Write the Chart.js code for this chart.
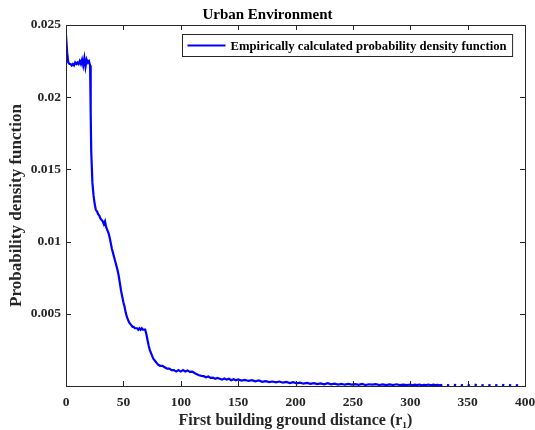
<!DOCTYPE html>
<html>
<head>
<meta charset="utf-8">
<script src="https://cdn.jsdelivr.net/npm/chart.js@4"></script>
<style>
  html, body { margin: 0; padding: 0; background: #fff; }
</style>
</head>
<body>
<canvas id="chart" width="535" height="430"></canvas>
<script>
const distance = [
  0, 1, 2, 3, 4, 5, 6, 7, 8, 9, 10, 11, 12, 13, 14, 15, 16, 17, 18, 19, 20,
  21, 21.5, 22, 23, 24, 25, 26, 27, 28, 29, 30, 31, 32, 33, 34, 35, 36, 37, 38, 39,
  40, 41, 42, 43, 44, 45, 46, 47, 48, 49, 50, 51, 52, 53, 54, 55, 56, 57, 58, 59,
  60, 61, 62, 63, 64, 65, 66, 67, 68, 69, 70, 71, 72, 73, 74, 75, 76, 77, 78, 79,
  80, 82, 84, 86, 88, 90, 92, 94, 96, 98, 100, 102, 104, 106, 108, 110, 112, 114, 116, 118,
  120, 122, 124, 126, 128, 130, 132, 134, 136, 138, 140, 142, 144, 146, 148, 150,
  153, 156, 159, 162, 165, 168, 171, 174, 177, 180, 183, 186, 189, 192, 195, 198,
  201, 204, 207, 210, 213, 216, 219, 222, 225, 228, 231, 234, 237, 240, 243, 246, 249,
  252, 255, 258, 261, 264, 267, 270, 273, 276, 279, 282, 285, 288, 291, 294, 297, 300,
  302, 304, 306, 308, 310, 312, 314, 316, 318, 320, 322, 324, 326, 328, 330,
  332, 334, 336, 338, 340, 342, 344, 346, 348, 350, 352, 354, 356, 358, 360,
  362, 364, 366, 368, 370, 372, 374, 376, 378, 380, 382, 384, 386, 388, 390, 392, 394, 396
];
const pdf = [
  0.0243, 0.0231, 0.0224, 0.0223, 0.0223, 0.0222, 0.0223, 0.0222, 0.0224, 0.0223, 0.0224, 0.0223, 0.0225, 0.0223, 0.0226, 0.0222, 0.0227, 0.0221, 0.0226, 0.0224, 0.0225,
  0.0222, 0.0190, 0.0162, 0.0141, 0.0132, 0.0126, 0.0122, 0.0121, 0.0119, 0.0118, 0.0116, 0.0115, 0.0114, 0.0112, 0.0114, 0.0110, 0.0108, 0.0106, 0.0103, 0.0099,
  0.0095, 0.0092, 0.0089, 0.0086, 0.0083, 0.0080, 0.0076, 0.0071, 0.0066, 0.0062, 0.0058, 0.0055, 0.0051, 0.0048, 0.0046, 0.0044, 0.0043, 0.0042, 0.0041, 0.0041,
  0.0040, 0.0040, 0.0040, 0.0039, 0.0040, 0.0039, 0.0040, 0.0039, 0.0039, 0.0039, 0.0036, 0.0032, 0.0028, 0.0025, 0.0023, 0.0021, 0.0019, 0.0018, 0.0017, 0.0016,
  0.0015, 0.0014, 0.0014, 0.0013, 0.0012, 0.0012, 0.0011, 0.0011, 0.0010, 0.0011, 0.0010, 0.0011, 0.00100, 0.00108, 0.00098, 0.00100, 0.00090, 0.00082, 0.00074, 0.00070,
  0.00068, 0.00060, 0.00066, 0.00056, 0.00058, 0.00050, 0.00056, 0.00050, 0.00044, 0.00052, 0.00044, 0.00050, 0.00040, 0.00047, 0.00040, 0.00045,
  0.00038, 0.00042, 0.00035, 0.00040, 0.00032, 0.00038, 0.00029, 0.00034, 0.00027, 0.00031, 0.00025, 0.00031, 0.00023, 0.00028, 0.00020, 0.00026,
  0.00018, 0.00023, 0.00016, 0.00021, 0.00015, 0.00020, 0.00013, 0.00018, 0.00012, 0.00019, 0.00011, 0.00016, 0.00010, 0.00015, 0.00009, 0.00014, 0.00010,
  0.00013, 0.00008, 0.00014, 0.00007, 0.00012, 0.00009, 0.00013, 0.00007, 0.00011, 0.00006, 0.00011, 0.00007, 0.00012, 0.00006, 0.00010, 0.00007,
  0.00010, 0.00005, 0.00009, 0.00006, 0.00010, 0.00005, 0.00008, 0.00006, 0.00010, 0.00005, 0.00009, 0.00006, 0.00008, 0.00005, 0.00009,
  null, 0.00007, 0.00005, null, 0.00008, 0.00006, null, 0.00006, 0.00004, null, 0.00007, 0.00005, null, 0.00009, 0.00006,
  null, 0.00006, 0.00004, null, 0.00007, 0.00005, null, 0.00006, 0.00004, null, 0.00008, 0.00005, null, 0.00006, 0.00004, null, 0.00006, 0.00005
];
const yTicks = [0.005, 0.01, 0.015, 0.02, 0.025];
const seriesLabel = 'Empirically calculated probability density function';

const serif = '"Liberation Serif", "Times New Roman", serif';
const ink = '#262626';

// MATLAB-style box with inward ticks and a framed legend inside the axes
const boxPlugin = {
  id: 'box',
  afterDraw(chart) {
    const c = chart.ctx;
    const { left, right, top, bottom } = chart.chartArea;
    const xs = chart.scales.x, ys = chart.scales.y;
    c.save();
    c.strokeStyle = ink;
    c.lineWidth = 1;
    c.beginPath();
    xs.ticks.forEach(t => {
      const px = Math.round(xs.getPixelForValue(t.value)) + 0.5;
      c.moveTo(px, bottom); c.lineTo(px, bottom - 5);
      c.moveTo(px, top); c.lineTo(px, top + 5);
    });
    ys.ticks.forEach(t => {
      const py = Math.round(ys.getPixelForValue(t.value)) + 0.5;
      c.moveTo(left, py); c.lineTo(left + 5, py);
      c.moveTo(right, py); c.lineTo(right - 5, py);
    });
    c.stroke();
    c.strokeRect(Math.round(left) + 0.5, Math.round(top) + 0.5, Math.round(right - left), Math.round(bottom - top));

    // legend
    c.font = 'bold 12.7px ' + serif;
    const tw = c.measureText(seriesLabel).width;
    const bw = tw + 54, bh = 22;
    const bx = Math.round(right - 13 - bw) + 0.5, by = Math.round(top + 9) + 0.5;
    c.fillStyle = '#fff';
    c.fillRect(bx, by, bw, bh);
    c.strokeRect(bx, by, bw, bh);
    c.strokeStyle = '#0000ff';
    c.lineWidth = 2;
    c.beginPath();
    c.moveTo(bx + 5, by + bh / 2); c.lineTo(bx + 43, by + bh / 2);
    c.stroke();
    c.fillStyle = '#000';
    c.textBaseline = 'middle';
    c.fillText(seriesLabel, bx + 48, by + bh / 2 + 1);
    c.restore();
  }
};

const ctx = document.getElementById('chart').getContext('2d');
new Chart(ctx, {
  type: 'line',
  data: {
    datasets: [{
      label: seriesLabel,
      data: distance.map((d, i) => ({ x: d, y: pdf[i] })),
      borderColor: '#0000ff',
      borderWidth: 2.2,
      pointRadius: 0,
      tension: 0,
      spanGaps: false
    }]
  },
  options: {
    responsive: false,
    animation: false,
    layout: { padding: { left: 0, right: 0, top: 0, bottom: 0 } },
    plugins: {
      legend: { display: false },
      tooltip: { enabled: false },
      title: {
        display: true,
        text: 'Urban Environment',
        color: '#000',
        font: { family: serif, size: 15, weight: 'bold' },
        padding: { top: 6, bottom: 1 }
      }
    },
    scales: {
      x: {
        type: 'linear',
        min: 0,
        max: 400,
        border: { display: false },
        grid: { display: false, drawTicks: false },
        ticks: {
          stepSize: 50,
          color: ink,
          padding: 8,
          maxRotation: 0,
          font: { family: serif, size: 13.5, weight: 'bold' }
        },
        title: {
          display: true,
          text: 'First building ground distance (r\u2081)',
          color: ink,
          font: { family: serif, size: 16, weight: 'bold' },
          padding: { top: 0, bottom: 0 }
        },
        afterFit: s => { s.height = 44; s.paddingLeft = 0; s.paddingRight = 10; }
      },
      y: {
        min: 0,
        max: 0.025,
        border: { display: false },
        grid: { display: false, drawTicks: false },
        afterBuildTicks: s => { s.ticks = yTicks.map(v => ({ value: v })); },
        ticks: {
          color: ink,
          padding: 5,
          font: { family: serif, size: 13.5, weight: 'bold' },
          callback: v => String(+v.toFixed(3))
        },
        title: {
          display: true,
          text: 'Probability density function',
          color: ink,
          font: { family: serif, size: 17, weight: 'bold' },
          padding: { top: 6, bottom: 0 }
        },
        afterFit: s => { s.width = 66; }
      }
    }
  },
  plugins: [boxPlugin]
});
</script>
</body>
</html>
